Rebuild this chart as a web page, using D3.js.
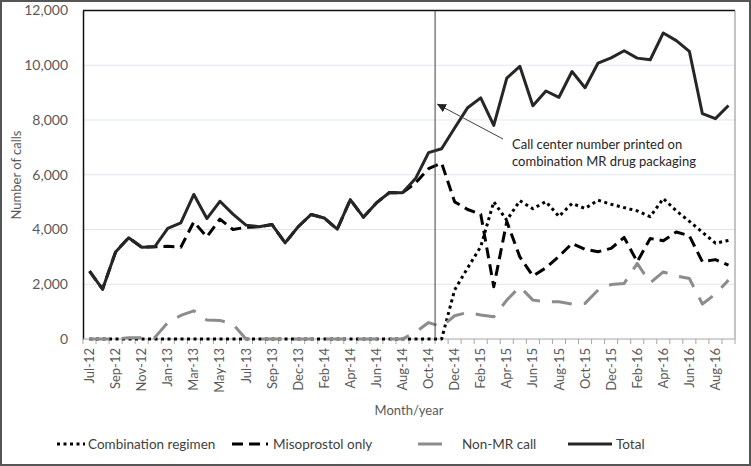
<!DOCTYPE html>
<html>
<head>
<meta charset="utf-8">
<script src="https://cdn.jsdelivr.net/npm/d3@7"></script>
<style>
  body { margin: 0; background: #fff; }
  text { font-family: Lato, "Liberation Sans", sans-serif; }
</style>
</head>
<body>
<div id="chart"></div>
<script>
// Chart size
var width = 751;
var height = 466;

// Months on the category axis (one month has no record between Sep-13 and Dec-13)
var months = ["Jul-12","Aug-12","Sep-12","Oct-12","Nov-12","Dec-12","Jan-13","Feb-13","Mar-13","Apr-13",
  "May-13","Jun-13","Jul-13","Aug-13","Sep-13","Nov-13","Dec-13","Jan-14","Feb-14","Mar-14",
  "Apr-14","May-14","Jun-14","Jul-14","Aug-14","Sep-14","Oct-14","Nov-14","Dec-14","Jan-15",
  "Feb-15","Mar-15","Apr-15","May-15","Jun-15","Jul-15","Aug-15","Sep-15","Oct-15","Nov-15",
  "Dec-15","Jan-16","Feb-16","Mar-16","Apr-16","May-16","Jun-16","Jul-16","Aug-16","Sep-16"];

// Series values (number of calls)
var combination = [0,0,0,0,0,0,0,0,0,0,
  0,0,0,0,0,0,0,0,0,0,
  0,0,0,0,0,0,0,0,1790,2600,
  3370,5010,4340,5050,4760,5020,4480,4950,4770,5070,
  4920,4800,4680,4470,5130,4680,4300,3900,3500,3600];
var misoprostol = [2480,1820,3180,3700,3350,3370,3390,3350,4280,3730,
  4380,4000,4080,4100,4180,3510,4100,4550,4420,4010,
  5090,4450,4970,5350,5340,5700,6220,6430,5010,4730,
  4560,1910,4290,3000,2300,2600,3020,3490,3280,3190,
  3310,3710,2820,3670,3590,3910,3770,2820,2900,2700];
var nonMR = [0,0,0,50,50,50,600,860,1030,690,
  680,540,0,0,0,0,0,0,0,0,
  0,0,0,0,0,250,600,450,850,970,
  880,810,1420,1910,1420,1360,1360,1280,1300,1790,
  1990,2030,2760,2050,2450,2300,2210,1280,1640,2150];
var total = [2480,1820,3180,3700,3350,3370,4040,4240,5280,4400,
  5030,4560,4160,4100,4180,3510,4100,4550,4420,4010,
  5090,4450,4970,5350,5340,5860,6810,6950,7710,8450,
  8810,7800,9530,9960,8520,9060,8830,9770,9180,10080,
  10270,10530,10260,10200,11180,10900,10510,8230,8050,8530];

var yTicks = [0, 2000, 4000, 6000, 8000, 10000, 12000];
var xLabels = months.filter(function(d, i) { return i % 2 === 0; });
var seriesNames = ["Combination regimen", "Misoprostol only", "Non-MR call", "Total"];
var markMonth = "Nov-14";
var noteLines = ["Call center number printed on", "combination MR drug packaging"];

var svg = d3.select("#chart").append("svg")
  .attr("width", width)
  .attr("height", height);

// outer frame
svg.append("rect")
  .attr("x", 1).attr("y", 1)
  .attr("width", width - 2).attr("height", height - 2)
  .attr("fill", "#fff")
  .attr("stroke", "#555").attr("stroke-width", 2);

var x = d3.scaleBand().domain(months).range([83, 735]);
var y = d3.scaleLinear().domain([0, 12000]).range([339, 10.5]);
function cx(m) { return x(m) + x.bandwidth() / 2; }

// gridlines
svg.append("g").selectAll("line")
  .data(yTicks.filter(function(d) { return d > 0 && d < 12000; }))
  .enter().append("line")
  .attr("x1", 83).attr("x2", 735)
  .attr("y1", function(d) { return y(d); })
  .attr("y2", function(d) { return y(d); })
  .attr("stroke", "#dfe5f0").attr("stroke-width", 1);

// plot border: top black, right grey
svg.append("line").attr("x1", 83).attr("x2", 735)
  .attr("y1", y(12000)).attr("y2", y(12000))
  .attr("stroke", "#111").attr("stroke-width", 1.3);
svg.append("line").attr("x1", 735).attr("x2", 735)
  .attr("y1", y(12000)).attr("y2", y(0))
  .attr("stroke", "#8a8a8a").attr("stroke-width", 1);

// y axis
var yAxis = svg.append("g")
  .attr("transform", "translate(83,0)")
  .call(d3.axisLeft(y).tickValues(yTicks).tickFormat(d3.format(",")).tickSize(0).tickPadding(15));
yAxis.select(".domain").attr("stroke", "#111").attr("stroke-width", 1.5);
yAxis.selectAll("text").attr("font-size", 14).attr("fill", "#595959");

// x axis: ticks on band edges, labels on every second month
svg.append("line").attr("x1", 83).attr("x2", 735)
  .attr("y1", y(0)).attr("y2", y(0))
  .attr("stroke", "#a6a6a6").attr("stroke-width", 1);
svg.append("g").selectAll("line")
  .data(months.concat(["end"]))
  .enter().append("line")
  .attr("x1", function(d) { return d === "end" ? 735 : x(d); })
  .attr("x2", function(d) { return d === "end" ? 735 : x(d); })
  .attr("y1", y(0)).attr("y2", y(0) + 5)
  .attr("stroke", "#a6a6a6");
svg.append("g").selectAll("text")
  .data(xLabels)
  .enter().append("text")
  .attr("transform", function(d) { return "translate(" + cx(d) + ",348) rotate(-90)"; })
  .attr("text-anchor", "end")
  .attr("dy", "0.35em")
  .attr("font-size", 13)
  .attr("fill", "#595959")
  .text(function(d) { return d; });

// axis titles
svg.append("text")
  .attr("transform", "translate(16,175) rotate(-90)")
  .attr("text-anchor", "middle")
  .attr("dy", "0.35em")
  .attr("font-size", 13)
  .attr("fill", "#595959")
  .text("Number of calls");
svg.append("text")
  .attr("x", 409).attr("y", 410)
  .attr("text-anchor", "middle")
  .attr("dy", "0.35em")
  .attr("font-size", 13)
  .attr("fill", "#595959")
  .text("Month/year");

// series
var styles = [
  { values: combination, color: "#000", dash: "3,3.5", width: 3 },
  { values: misoprostol, color: "#000", dash: "11,6", width: 3 },
  { values: nonMR, color: "#8c8c8c", dash: "20,12", width: 3 },
  { values: total, color: "#262626", dash: null, width: 3 }
];

var line = d3.line()
  .x(function(d, i) { return cx(months[i]); })
  .y(function(d) { return y(d); });

styles.forEach(function(s) {
  svg.append("path")
    .datum(s.values)
    .attr("d", line)
    .attr("fill", "none")
    .attr("stroke", s.color)
    .attr("stroke-width", s.width)
    .attr("stroke-dasharray", s.dash)
    .attr("stroke-linejoin", "round");
});

// vertical marker and annotation
svg.append("line")
  .attr("x1", x(markMonth)).attr("x2", x(markMonth))
  .attr("y1", y(12000)).attr("y2", y(0))
  .attr("stroke", "#404040").attr("stroke-width", 1);

svg.append("defs").append("marker")
  .attr("id", "arrow")
  .attr("viewBox", "0 0 10 10")
  .attr("refX", 10).attr("refY", 5)
  .attr("markerWidth", 9).attr("markerHeight", 9)
  .attr("markerUnits", "userSpaceOnUse")
  .attr("orient", "auto")
  .append("path")
  .attr("d", "M0,0L10,5L0,10Z")
  .attr("fill", "#222");

svg.append("line")
  .attr("x1", 503).attr("y1", 139)
  .attr("x2", x(markMonth) + 2).attr("y2", 104)
  .attr("stroke", "#404040").attr("stroke-width", 1)
  .attr("marker-end", "url(#arrow)");

svg.append("g").selectAll("text")
  .data(noteLines)
  .enter().append("text")
  .attr("x", 512)
  .attr("y", function(d, i) { return 144 + i * 17; })
  .attr("dy", "0.35em")
  .attr("font-size", 13)
  .attr("fill", "#262626")
  .text(function(d) { return d; });

// legend
var legendPos = [
  { x0: 57, x1: 85, tx: 88 },
  { x0: 232, x1: 268, tx: 273 },
  { x0: 418, x1: 442, tx: 462 },
  { x0: 568, x1: 612, tx: 616 }
];
var legend = svg.append("g").selectAll("g")
  .data(seriesNames)
  .enter().append("g");
legend.append("line")
  .attr("x1", function(d, i) { return legendPos[i].x0; })
  .attr("x2", function(d, i) { return legendPos[i].x1; })
  .attr("y1", 444).attr("y2", 444)
  .attr("stroke", function(d, i) { return styles[i].color; })
  .attr("stroke-width", 3)
  .attr("stroke-dasharray", function(d, i) { return i === 2 ? null : styles[i].dash; });
legend.append("text")
  .attr("x", function(d, i) { return legendPos[i].tx; })
  .attr("y", 444)
  .attr("dy", "0.35em")
  .attr("font-size", 13.5)
  .attr("fill", "#404040")
  .text(function(d) { return d; });
</script>
</body>
</html>
